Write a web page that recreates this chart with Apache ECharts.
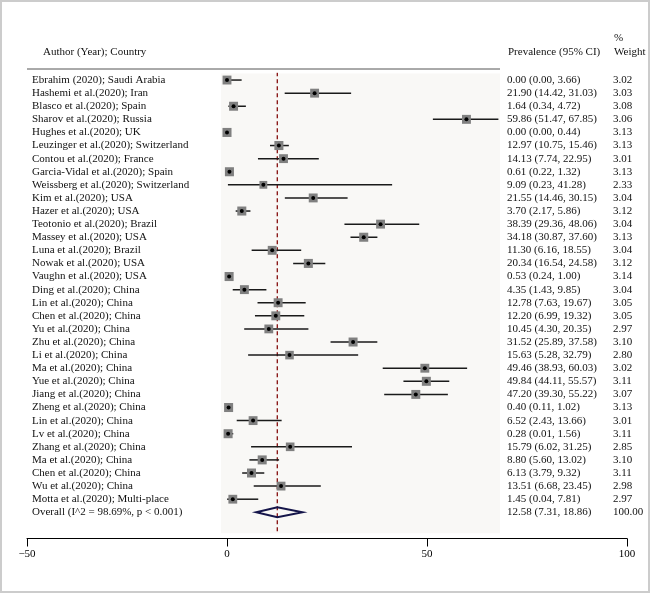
<!DOCTYPE html>
<html>
<head>
<meta charset="utf-8">
<script src="https://cdn.jsdelivr.net/npm/echarts@6/dist/echarts.min.js"></script>
<style>
  html, body { margin: 0; padding: 0; background: #fff; }
  #wrap { position: relative; width: 650px; height: 593px; }
  #chart { width: 650px; height: 593px; }
  #frame { position: absolute; left: 0; top: 0; width: 650px; height: 593px; box-sizing: border-box; border: 2px solid #cccccc; pointer-events: none; }
</style>
</head>
<body>
<div id="wrap"><div id="chart"></div><div id="frame"></div></div>
<script>
// study labels and estimates
const studies = [
  'Ebrahim (2020); Saudi Arabia', 'Hashemi et al.(2020); Iran', 'Blasco et al.(2020); Spain',
  'Sharov et al.(2020); Russia', 'Hughes et al.(2020); UK', 'Leuzinger et al.(2020); Switzerland',
  'Contou et al.(2020); France', 'Garcia-Vidal et al.(2020); Spain', 'Weissberg et al.(2020); Switzerland',
  'Kim et al.(2020); USA', 'Hazer et al.(2020); USA', 'Teotonio et al.(2020); Brazil',
  'Massey et al.(2020); USA', 'Luna et al.(2020); Brazil', 'Nowak et al.(2020); USA',
  'Vaughn et al.(2020); USA', 'Ding et al.(2020); China', 'Lin et al.(2020); China',
  'Chen et al.(2020); China', 'Yu et al.(2020); China', 'Zhu et al.(2020); China',
  'Li et al.(2020); China', 'Ma et al.(2020); China', 'Yue et al.(2020); China',
  'Jiang et al.(2020); China', 'Zheng et al.(2020); China', 'Lin et al.(2020); China',
  'Lv et al.(2020); China', 'Zhang et al.(2020); China', 'Ma et al.(2020); China',
  'Chen et al.(2020); China', 'Wu et al.(2020); China', 'Motta et al.(2020); Multi-place'
];
const est = [0.00, 21.90, 1.64, 59.86, 0.00, 12.97, 14.13, 0.61, 9.09, 21.55, 3.70, 38.39, 34.18, 11.30, 20.34, 0.53,
  4.35, 12.78, 12.20, 10.45, 31.52, 15.63, 49.46, 49.84, 47.20, 0.40, 6.52, 0.28, 15.79, 8.80, 6.13, 13.51, 1.45];
const lower = [0.00, 14.42, 0.34, 51.47, 0.00, 10.75, 7.74, 0.22, 0.23, 14.46, 2.17, 29.36, 30.87, 6.16, 16.54, 0.24,
  1.43, 7.63, 6.99, 4.30, 25.89, 5.28, 38.93, 44.11, 39.30, 0.11, 2.43, 0.01, 6.02, 5.60, 3.79, 6.68, 0.04];
const upper = [3.66, 31.03, 4.72, 67.85, 0.44, 15.46, 22.95, 1.32, 41.28, 30.15, 5.86, 48.06, 37.60, 18.55, 24.58, 1.00,
  9.85, 19.67, 19.32, 20.35, 37.58, 32.79, 60.03, 55.57, 55.22, 1.02, 13.66, 1.56, 31.25, 13.02, 9.32, 23.45, 7.81];
const weights = [3.02, 3.03, 3.08, 3.06, 3.13, 3.13, 3.01, 3.13, 2.33, 3.04, 3.12, 3.04, 3.13, 3.04, 3.12, 3.14,
  3.04, 3.05, 3.05, 2.97, 3.10, 2.80, 3.02, 3.11, 3.07, 3.13, 3.01, 3.11, 2.85, 3.10, 3.11, 2.98, 2.97];
const overallLabel = 'Overall (I^2 = 98.69%, p < 0.001)';
const overall = [12.58, 7.31, 18.86];
const overallWeight = 100.00;
const xTicks = [-50, 0, 50, 100];

const FONT_FAMILY = '"Liberation Serif", "DejaVu Serif", serif';
const FONT = '11px ' + FONT_FAMILY;
const TEXT = '#111';
const fmt = v => v.toFixed(2);
const ciText = (e, l, u) => fmt(e) + ' (' + fmt(l) + ', ' + fmt(u) + ')';

const rows = studies.map((s, i) => [i, est[i], lower[i], upper[i], weights[i]]);
const ov = studies.length;

function textEl(x, y, text) {
  return { type: 'text', x: x, y: y, style: { text: text, fill: TEXT, font: FONT, textAlign: 'left', textVerticalAlign: 'middle', verticalAlign: 'middle' } };
}

function renderStudy(params, api) {
  const i = api.value(0);
  const c = api.coord([api.value(1), i]);
  const l = api.coord([api.value(2), i]);
  const h = api.coord([api.value(3), i]);
  const side = 9 * Math.sqrt(api.value(4) / 3.1);
  return {
    type: 'group',
    children: [
      { type: 'line', shape: { x1: l[0], y1: l[1], x2: h[0], y2: h[1] }, style: { stroke: '#1a1a1a', lineWidth: 1.5 } },
      { type: 'rect', shape: { x: c[0] - side / 2, y: c[1] - side / 2, width: side, height: side }, style: { fill: '#808080' } },
      { type: 'circle', shape: { cx: c[0], cy: c[1], r: 2 }, style: { fill: '#000' } }
    ]
  };
}

function renderStudyText(params, api) {
  const i = api.value(0);
  const y = api.coord([0, i])[1];
  return {
    type: 'group',
    children: [
      textEl(32, y, studies[i]),
      textEl(507, y, ciText(est[i], lower[i], upper[i])),
      textEl(613, y, fmt(weights[i]))
    ]
  };
}

function renderOverall(params, api) {
  const i = api.value(0);
  const c = api.coord([api.value(1), i]);
  const l = api.coord([api.value(2), i]);
  const h = api.coord([api.value(3), i]);
  return {
    type: 'group',
    children: [
      { type: 'polygon', shape: { points: [[l[0], c[1]], [c[0], c[1] - 5], [h[0], c[1]], [c[0], c[1] + 5]] },
        style: { fill: 'rgba(0,0,0,0)', stroke: '#15154a', lineWidth: 2 } },
      textEl(32, c[1], overallLabel),
      textEl(507, c[1], ciText(overall[0], overall[1], overall[2])),
      textEl(613, c[1], fmt(overallWeight))
    ]
  };
}

const chart = echarts.init(document.getElementById('chart'));
chart.setOption({
  animation: false,
  grid: { left: 27, right: 23, top: 73.5, bottom: 54.5 },
  xAxis: {
    type: 'value', min: xTicks[0], max: xTicks[xTicks.length - 1], interval: 50,
    splitLine: { show: false },
    axisLine: { onZero: false, lineStyle: { color: '#000', width: 1 } },
    axisTick: { length: 8, lineStyle: { color: '#000', width: 1 } },
    axisLabel: { color: '#000', fontFamily: FONT_FAMILY, fontSize: 11, margin: 10,
      formatter: v => String(v).replace('-', '\u2212') }
  },
  yAxis: { type: 'value', inverse: true, min: -0.5, max: 35, show: false },
  graphic: [
    { type: 'text', left: 43, top: 47, style: { text: 'Author (Year); Country', fill: TEXT, font: FONT } },
    { type: 'text', left: 508, top: 47, style: { text: 'Prevalence (95% CI)', fill: TEXT, font: FONT } },
    { type: 'text', left: 614, top: 33, style: { text: '%', fill: TEXT, font: FONT } },
    { type: 'text', left: 614, top: 47, style: { text: 'Weight', fill: TEXT, font: FONT } },
    { type: 'line', shape: { x1: 27, y1: 69, x2: 500, y2: 69 }, style: { stroke: '#555', lineWidth: 1 } }
  ],
  series: [
    {
      // panel + pooled estimate line
      type: 'line', z: 1, silent: true, symbol: 'none',
      data: [[overall[0], -0.6], [overall[0], 34.6]],
      lineStyle: { color: '#8b1a1a', width: 1.4, type: [4, 3] },
      markArea: { silent: true, itemStyle: { color: '#f9f8f6' },
        data: [[{ xAxis: -1.5, yAxis: -0.6 }, { xAxis: 68.25, yAxis: 34.6 }]] }
    },
    { type: 'custom', z: 3, renderItem: renderStudy, data: rows, clip: false },
    { type: 'custom', z: 3, renderItem: renderStudyText, data: rows, clip: false },
    { type: 'custom', z: 3, renderItem: renderOverall, data: [[ov].concat(overall)], clip: false }
  ]
});
</script>
</body>
</html>
